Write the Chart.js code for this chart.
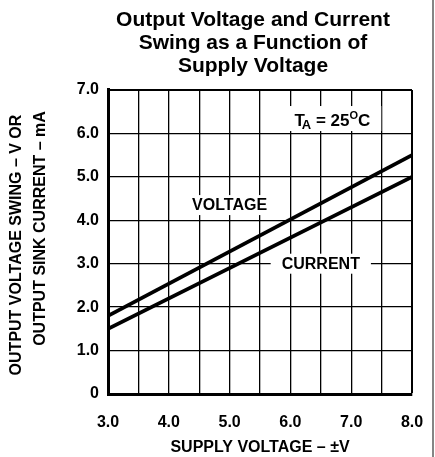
<!DOCTYPE html>
<html><head><meta charset="utf-8">
<script src="https://cdn.jsdelivr.net/npm/chart.js@4"></script>
<style>html,body{margin:0;padding:0;background:#fff;}#wrap{width:435px;height:457px;position:relative;}</style>
</head><body><div id="wrap"><canvas id="c" width="435" height="457"></canvas></div>
<script>
// ---- data ----
const titleLines = ['Output Voltage and Current', 'Swing as a Function of', 'Supply Voltage'];
const supplyVoltage = [3.0, 8.0];          // x, volts (±V)
const voltageSwing = [1.8, 5.5];           // V
const sinkCurrent = [1.5, 5.0];            // mA
const seriesLabels = ['VOLTAGE', 'CURRENT'];
const xTitle = 'SUPPLY VOLTAGE – ±V';
const yTitleLines = ['OUTPUT VOLTAGE SWING – V OR', 'OUTPUT SINK CURRENT – mA'];
const conditionText = ['T', 'A', ' = 25', 'O', 'C'];

const FONT = "'Liberation Sans', Arial, Helvetica, sans-serif";

const decor = {
  id: 'decor',
  afterLayout(chart) {
    // let the y tick labels extend left of the narrow axis box (avoid clipping)
    chart.scales.y.left = 48;
  },
  beforeDatasetsDraw(chart) {
    const {ctx, scales: {x, y}} = chart;
    ctx.save();
    ctx.textBaseline = 'middle';
    ctx.textAlign = 'center';
    ctx.font = 'bold 16px ' + FONT;
    const labs = [
      {t: seriesLabels[0], vx: 5.0, vy: 4.35, padX: 7},
      {t: seriesLabels[1], vx: 6.5, vy: 3.0, padX: 11}
    ];
    labs.forEach(l => {
      const cx = x.getPixelForValue(l.vx), cy = y.getPixelForValue(l.vy);
      const w = ctx.measureText(l.t).width + 2 * l.padX;
      ctx.fillStyle = '#fff';
      ctx.fillRect(cx - w / 2, cy - 10, w, 20);
      ctx.fillStyle = '#000';
      ctx.fillText(l.t, cx, cy + 1);
    });
    // T_A = 25°C
    const cx = x.getPixelForValue(6.69), base = y.getPixelForValue(6.17);
    const parts = [
      {t: conditionText[0], f: 'bold 17px ', dy: 0, k: -3},
      {t: conditionText[1], f: 'bold 13px ', dy: 3, k: 0},
      {t: conditionText[2], f: 'bold 17px ', dy: 0, k: 0},
      {t: conditionText[3], f: 'bold 11px ', dy: -7, k: 0},
      {t: conditionText[4], f: 'bold 17px ', dy: 0, k: 0}
    ];
    let total = 0;
    parts.forEach(p => { ctx.font = p.f + FONT; p.w = ctx.measureText(p.t).width; total += p.w + p.k; });
    ctx.fillStyle = '#fff';
    ctx.fillRect(cx - total / 2 - 11, base - 20, total + 22, 25);
    ctx.fillStyle = '#000';
    ctx.textAlign = 'left';
    ctx.textBaseline = 'alphabetic';
    let px = cx - total / 2;
    parts.forEach(p => { ctx.font = p.f + FONT; ctx.fillText(p.t, px, base + p.dy); px += p.w + p.k; });
    ctx.restore();
  },
  afterDraw(chart) {
    const {ctx} = chart;
    ctx.save();
    ctx.fillStyle = '#000';
    ctx.font = 'bold 16px ' + FONT;
    ctx.textAlign = 'center';
    ctx.textBaseline = 'middle';
    [[17, 245], [41, 228.5]].forEach((pos, i) => {
      ctx.save();
      ctx.translate(pos[0], pos[1]);
      ctx.rotate(-Math.PI / 2);
      ctx.fillText(yTitleLines[i], 0, 0);
      ctx.restore();
    });
    ctx.strokeStyle = '#858585';
    ctx.lineWidth = 2;
    ctx.beginPath();
    ctx.moveTo(433, 0); ctx.lineTo(433, 457);
    ctx.stroke();
    ctx.restore();
  }
};

const mkData = vals => supplyVoltage.map((v, i) => ({x: v, y: vals[i]}));
const lineStyle = {borderColor: '#000', backgroundColor: '#000', borderWidth: 3.8, pointRadius: 0, fill: false, tension: 0};
const tickFont = {family: FONT, size: 16, weight: 'bold'};

new Chart(document.getElementById('c'), {
  type: 'line',
  data: {
    datasets: [
      Object.assign({label: seriesLabels[0], data: mkData(voltageSwing)}, lineStyle),
      Object.assign({label: seriesLabels[1], data: mkData(sinkCurrent)}, lineStyle)
    ]
  },
  options: {
    responsive: false,
    animation: false,
    events: [],
    layout: {padding: {left: 94, right: 23, top: 9, bottom: 0}},
    plugins: {
      legend: {display: false},
      tooltip: {enabled: false},
      title: {
        display: true, text: titleLines, color: '#000',
        font: {family: FONT, size: 21, weight: 'bold', lineHeight: 1.095},
        padding: {top: 0, bottom: 12}
      }
    },
    scales: {
      x: {
        type: 'linear', min: 3, max: 8,
        afterFit: s => { s.height = 63; s.paddingLeft = 0; s.paddingRight = 0; },
        ticks: {
          stepSize: 0.5, autoSkip: false, maxRotation: 0, padding: 19, color: '#000',
          font: tickFont,
          callback: v => Number.isInteger(v) ? v.toFixed(1) : ''
        },
        grid: {color: '#000', drawTicks: false, lineWidth: c => (c.tick && c.tick.value === 8) ? 2 : 1.3},
        border: {display: true, color: '#000', width: 3},
        title: {display: true, text: xTitle, color: '#000', font: tickFont, padding: {top: 0, bottom: 0}}
      },
      y: {
        type: 'linear', min: 0, max: 7,
        afterFit: s => { s.width = 14; s.paddingTop = 0; s.paddingBottom = 0; },
        ticks: {
          stepSize: 1, padding: 9, color: '#000',
          font: tickFont,
          callback: v => v === 0 ? '0' : v.toFixed(1)
        },
        grid: {color: '#000', drawTicks: false, lineWidth: c => (c.tick && c.tick.value === 7) ? 2 : 1.3},
        border: {display: true, color: '#000', width: 3}
      }
    }
  },
  plugins: [decor]
});
</script>
</body></html>
